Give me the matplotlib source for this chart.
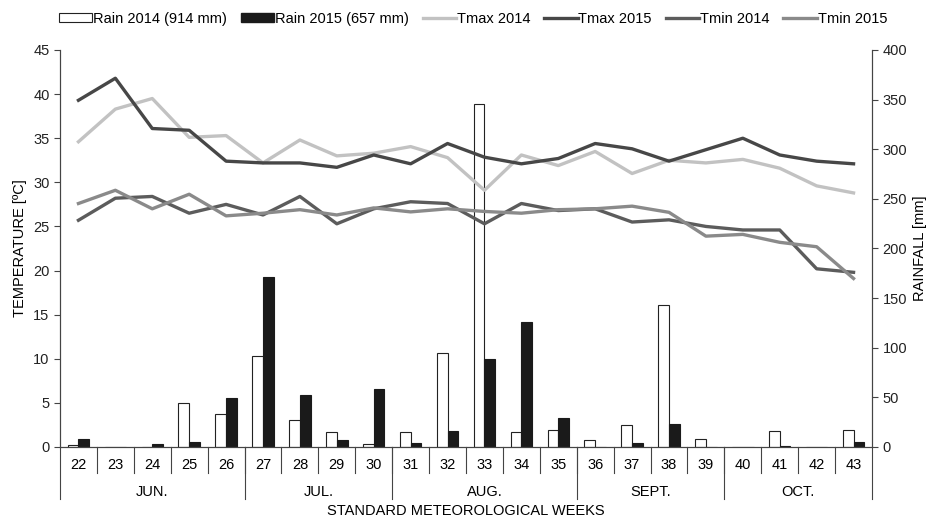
import numpy as np
import matplotlib.pyplot as plt
from matplotlib.transforms import blended_transform_factory
from matplotlib.patches import Patch
from matplotlib.lines import Line2D

plt.rcParams['font.family'] = ['Liberation Sans', 'DejaVu Sans']

weeks = [str(w) for w in range(22, 44)]
months = ['JUN.', 'JUL.', 'AUG.', 'SEPT.', 'OCT.']
month_weeks = [5, 4, 5, 4, 4]  # number of weeks in each month group

rain_2014 = [2, 0, 0, 44, 33, 92, 27, 15, 3, 15, 95, 346, 15.4, 17.4, 7, 22, 143, 8, 0, 16, 0, 17.4]
rain_2015 = [8, 0, 3.5, 5.5, 49.6, 171, 52, 7, 58, 4.5, 16, 88.7, 126, 29.5, 0, 4, 23.5, 0, 0, 1.5, 0, 5.5]

tmax_2014 = [34.6, 38.3, 39.5, 35.1, 35.3, 32.2, 34.8, 33.0, 33.3, 34.05, 32.8, 29.1,
             33.1, 31.9, 33.5, 31.0, 32.5, 32.2, 32.6, 31.6, 29.6, 28.8]
tmax_2015 = [39.3, 41.8, 36.1, 35.9, 32.4, 32.2, 32.2, 31.7, 33.1, 32.1, 34.4, 32.85,
             32.1, 32.7, 34.4, 33.8, 32.4, 33.7, 35.0, 33.1, 32.4, 32.1]
tmin_2014 = [25.7, 28.2, 28.4, 26.5, 27.5, 26.3, 28.4, 25.3, 27.0, 27.8, 27.6, 25.3,
             27.6, 26.8, 27.0, 25.5, 25.75, 25.0, 24.6, 24.6, 20.2, 19.8]
tmin_2015 = [27.6, 29.1, 27.0, 28.65, 26.2, 26.5, 26.9, 26.3, 27.1, 26.65, 27.0, 26.7,
             26.5, 26.9, 27.0, 27.3, 26.6, 23.9, 24.1, 23.2, 22.7, 19.1]

x = np.arange(len(weeks))

fig = plt.figure(figsize=(9.29, 5.17), dpi=100)
ax = fig.add_axes([60/929, 70/517, 812/929, 397/517])
ax2 = ax.twinx()

# bars on the rainfall axis (behind the lines)
w = 0.29
ax2.bar(x - 0.145, rain_2014, w, color='white', edgecolor='#222222', linewidth=0.8)
ax2.bar(x + 0.145, rain_2015, w, color='#1a1a1a', edgecolor='#1a1a1a', linewidth=0.8)
ax2.set_ylim(0, 400)
ax2.set_yticks(np.arange(0, 401, 50))

# temperature lines
lw = 2.4
ax.plot(x, tmax_2014, color='#c2c2c2', lw=lw)
ax.plot(x, tmax_2015, color='#474747', lw=lw)
ax.plot(x, tmin_2014, color='#5c5c5c', lw=lw)
ax.plot(x, tmin_2015, color='#8a8a8a', lw=lw)
ax.set_ylim(0, 45)
ax.set_yticks(np.arange(0, 46, 5))
ax.set_xlim(-0.5, len(weeks) - 0.5)
ax.set_zorder(ax2.get_zorder() + 1)
ax.patch.set_visible(False)

for a in (ax, ax2):
    a.spines['top'].set_visible(False)
    a.spines['left'].set_color('#444444')
    a.spines['right'].set_color('#444444')
    a.spines['bottom'].set_color('#444444')
    a.tick_params(axis='y', length=4, width=0.8, color='#444444', labelsize=10.5, colors='#222222')
    a.set_xticks([])

ax.set_ylabel('TEMPERATURE [ºC]', fontsize=10.5)
ax.yaxis.set_label_coords(-0.041, 0.5)
ax2.set_ylabel('RAINFALL [mm]', fontsize=10.5)
ax2.yaxis.set_label_coords(1.05, 0.5)

# week / month boxes under the axis
tr = blended_transform_factory(ax.transData, ax.transAxes)
for i, wk in enumerate(weeks):
    ax.text(i, -0.045, wk, transform=tr, ha='center', va='center', fontsize=10.5)
for k in range(len(weeks) - 1):
    ax.plot([k + 0.5, k + 0.5], [0, -0.066], transform=tr, color='#444444', lw=0.8, clip_on=False)
edges = np.concatenate([[0], np.cumsum(month_weeks)]) - 0.5
for e in edges:
    ax.plot([e, e], [0, -0.132], transform=tr, color='#444444', lw=0.8, clip_on=False)
for m, a0, a1 in zip(months, edges[:-1], edges[1:]):
    ax.text((a0 + a1) / 2, -0.113, m, transform=tr, ha='center', va='center', fontsize=10.5)
ax.text(0.5, -0.16, 'STANDARD METEOROLOGICAL WEEKS', transform=ax.transAxes,
        ha='center', va='center', fontsize=10.5)

handles = [Patch(facecolor='white', edgecolor='#222222', lw=0.8),
           Patch(facecolor='#1a1a1a', edgecolor='#1a1a1a'),
           Line2D([], [], color='#c2c2c2', lw=lw),
           Line2D([], [], color='#474747', lw=lw),
           Line2D([], [], color='#5c5c5c', lw=lw),
           Line2D([], [], color='#8a8a8a', lw=lw)]
labels = ['Rain 2014 (914 mm)', 'Rain 2015 (657 mm)', 'Tmax 2014', 'Tmax 2015', 'Tmin 2014', 'Tmin 2015']
fig.legend(handles, labels, loc='center', bbox_to_anchor=(0.509, 1 - 19/517), ncol=6, frameon=False,
           fontsize=10.5, handlelength=2.3, handleheight=0.6, handletextpad=0.05, columnspacing=0.95)

fig.savefig('out.png', dpi=100)
